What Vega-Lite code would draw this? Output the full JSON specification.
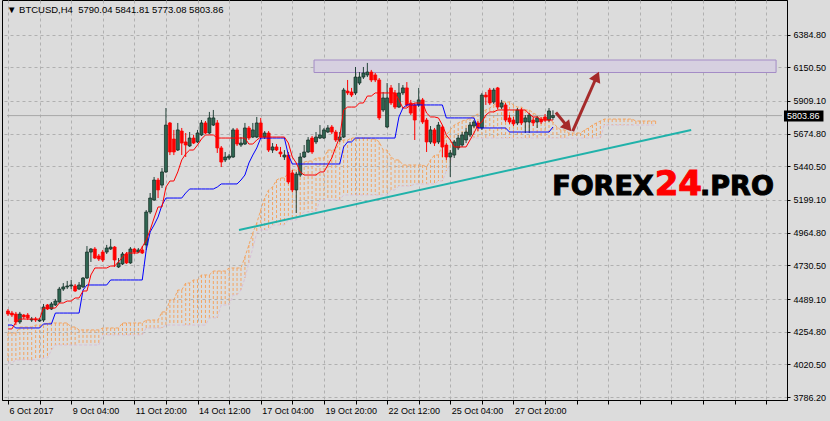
{
"$schema": "https://vega.github.io/schema/vega-lite/v6.json",
"width": 785, "height": 400,
"autosize": "none",
"padding": {"left": 2, "top": 0, "right": 43, "bottom": 21},
"background": "#DCDCDC",
"title": {"text": "▼ BTCUSD,H4\u00a0\u00a05790.04 5841.81 5773.08 5803.86", "anchor": "start", "frame": "group", "offset": -14, "dx": 5, "font": "Liberation Sans", "fontSize": 9.5, "fontWeight": "normal", "color": "black"},
"config": {
 "view": {"stroke": "black", "strokeWidth": 1}
},
"resolve": {"axis": {"x": "independent", "y": "independent"}},
"datasets": {
"candles": [
{"i":0,"o":4404,"h":4418,"l":4368,"c":4382,"t":4275,"k":4303},
{"i":1,"o":4389,"h":4404,"l":4361,"c":4375,"t":4275,"k":4303},
{"i":2,"o":4382,"h":4397,"l":4303,"c":4325,"t":4325,"k":4282},
{"i":3,"o":4325,"h":4397,"l":4311,"c":4382,"t":4346,"k":4282},
{"i":4,"o":4375,"h":4382,"l":4346,"c":4361,"t":4346,"k":4282},
{"i":5,"o":4375,"h":4389,"l":4339,"c":4354,"t":4346,"k":4282},
{"i":6,"o":4339,"h":4361,"l":4325,"c":4346,"t":4346,"k":4282},
{"i":7,"o":4346,"h":4361,"l":4325,"c":4339,"t":4346,"k":4282},
{"i":8,"o":4332,"h":4354,"l":4325,"c":4339,"t":4346,"k":4282},
{"i":9,"o":4339,"h":4454,"l":4325,"c":4432,"t":4425,"k":4311},
{"i":10,"o":4447,"h":4454,"l":4411,"c":4418,"t":4425,"k":4311},
{"i":11,"o":4418,"h":4468,"l":4411,"c":4454,"t":4425,"k":4311},
{"i":12,"o":4447,"h":4490,"l":4440,"c":4475,"t":4425,"k":4389},
{"i":13,"o":4468,"h":4576,"l":4461,"c":4561,"t":4461,"k":4389},
{"i":14,"o":4561,"h":4604,"l":4547,"c":4576,"t":4461,"k":4389},
{"i":15,"o":4576,"h":4619,"l":4561,"c":4583,"t":4475,"k":4389},
{"i":16,"o":4583,"h":4626,"l":4561,"c":4590,"t":4475,"k":4389},
{"i":17,"o":4583,"h":4597,"l":4540,"c":4547,"t":4497,"k":4389},
{"i":18,"o":4561,"h":4611,"l":4554,"c":4590,"t":4497,"k":4389},
{"i":19,"o":4576,"h":4647,"l":4569,"c":4640,"t":4547,"k":4554},
{"i":20,"o":4640,"h":4869,"l":4633,"c":4826,"t":4547,"k":4590},
{"i":21,"o":4826,"h":4855,"l":4755,"c":4848,"t":4662,"k":4590},
{"i":22,"o":4848,"h":4862,"l":4776,"c":4783,"t":4712,"k":4590},
{"i":23,"o":4798,"h":4812,"l":4762,"c":4776,"t":4712,"k":4590},
{"i":24,"o":4826,"h":4841,"l":4755,"c":4769,"t":4712,"k":4590},
{"i":25,"o":4826,"h":4877,"l":4812,"c":4855,"t":4712,"k":4590},
{"i":26,"o":4848,"h":4920,"l":4841,"c":4862,"t":4726,"k":4626},
{"i":27,"o":4862,"h":4869,"l":4719,"c":4769,"t":4726,"k":4626},
{"i":28,"o":4719,"h":4783,"l":4712,"c":4748,"t":4755,"k":4626},
{"i":29,"o":4741,"h":4826,"l":4733,"c":4812,"t":4791,"k":4626},
{"i":30,"o":4812,"h":4826,"l":4741,"c":4748,"t":4819,"k":4626},
{"i":31,"o":4748,"h":4862,"l":4741,"c":4848,"t":4819,"k":4626},
{"i":32,"o":4848,"h":4855,"l":4812,"c":4826,"t":4819,"k":4626},
{"i":33,"o":4826,"h":4855,"l":4819,"c":4841,"t":4819,"k":4626},
{"i":34,"o":4841,"h":4869,"l":4812,"c":4819,"t":4862,"k":4626},
{"i":35,"o":4877,"h":5127,"l":4841,"c":5113,"t":4912,"k":4841},
{"i":36,"o":5113,"h":5249,"l":5099,"c":5213,"t":4984,"k":4970},
{"i":37,"o":5199,"h":5364,"l":5192,"c":5342,"t":5070,"k":5020},
{"i":38,"o":5342,"h":5357,"l":5213,"c":5271,"t":5149,"k":5077},
{"i":39,"o":5306,"h":5428,"l":5285,"c":5400,"t":5149,"k":5163},
{"i":40,"o":5400,"h":5858,"l":5393,"c":5736,"t":5292,"k":5213},
{"i":41,"o":5751,"h":5758,"l":5521,"c":5543,"t":5335,"k":5213},
{"i":42,"o":5636,"h":5701,"l":5521,"c":5543,"t":5335,"k":5213},
{"i":43,"o":5557,"h":5751,"l":5550,"c":5701,"t":5400,"k":5213},
{"i":44,"o":5693,"h":5715,"l":5521,"c":5607,"t":5486,"k":5213},
{"i":45,"o":5615,"h":5679,"l":5507,"c":5593,"t":5529,"k":5249},
{"i":46,"o":5586,"h":5686,"l":5579,"c":5643,"t":5557,"k":5278},
{"i":47,"o":5643,"h":5665,"l":5600,"c":5607,"t":5557,"k":5278},
{"i":48,"o":5615,"h":5701,"l":5607,"c":5679,"t":5593,"k":5278},
{"i":49,"o":5665,"h":5772,"l":5658,"c":5751,"t":5636,"k":5278},
{"i":50,"o":5751,"h":5765,"l":5672,"c":5679,"t":5665,"k":5278},
{"i":51,"o":5679,"h":5830,"l":5672,"c":5787,"t":5665,"k":5278},
{"i":52,"o":5736,"h":5844,"l":5729,"c":5787,"t":5665,"k":5278},
{"i":53,"o":5751,"h":5772,"l":5536,"c":5572,"t":5643,"k":5292},
{"i":54,"o":5572,"h":5586,"l":5435,"c":5471,"t":5643,"k":5314},
{"i":55,"o":5486,"h":5543,"l":5471,"c":5507,"t":5643,"k":5314},
{"i":56,"o":5500,"h":5529,"l":5486,"c":5514,"t":5643,"k":5314},
{"i":57,"o":5507,"h":5715,"l":5500,"c":5701,"t":5643,"k":5314},
{"i":58,"o":5701,"h":5715,"l":5586,"c":5600,"t":5643,"k":5314},
{"i":59,"o":5593,"h":5650,"l":5579,"c":5607,"t":5643,"k":5342},
{"i":60,"o":5600,"h":5751,"l":5593,"c":5715,"t":5643,"k":5378},
{"i":61,"o":5715,"h":5729,"l":5629,"c":5643,"t":5600,"k":5464},
{"i":62,"o":5650,"h":5751,"l":5643,"c":5701,"t":5600,"k":5521},
{"i":63,"o":5650,"h":5794,"l":5643,"c":5751,"t":5629,"k":5572},
{"i":64,"o":5751,"h":5787,"l":5636,"c":5650,"t":5650,"k":5643},
{"i":65,"o":5650,"h":5693,"l":5636,"c":5679,"t":5650,"k":5643},
{"i":66,"o":5679,"h":5693,"l":5543,"c":5557,"t":5650,"k":5643},
{"i":67,"o":5557,"h":5607,"l":5536,"c":5579,"t":5650,"k":5643},
{"i":68,"o":5579,"h":5600,"l":5550,"c":5557,"t":5650,"k":5643},
{"i":69,"o":5543,"h":5579,"l":5507,"c":5529,"t":5650,"k":5643},
{"i":70,"o":5507,"h":5557,"l":5486,"c":5521,"t":5650,"k":5643},
{"i":71,"o":5521,"h":5543,"l":5314,"c":5328,"t":5607,"k":5521},
{"i":72,"o":5393,"h":5414,"l":5256,"c":5271,"t":5507,"k":5457},
{"i":73,"o":5271,"h":5400,"l":5106,"c":5385,"t":5464,"k":5457},
{"i":74,"o":5378,"h":5536,"l":5364,"c":5507,"t":5400,"k":5457},
{"i":75,"o":5507,"h":5593,"l":5500,"c":5543,"t":5378,"k":5457},
{"i":76,"o":5543,"h":5650,"l":5536,"c":5629,"t":5378,"k":5457},
{"i":77,"o":5643,"h":5658,"l":5529,"c":5543,"t":5378,"k":5457},
{"i":78,"o":5615,"h":5686,"l":5600,"c":5650,"t":5378,"k":5457},
{"i":79,"o":5643,"h":5736,"l":5636,"c":5665,"t":5400,"k":5457},
{"i":80,"o":5643,"h":5715,"l":5636,"c":5701,"t":5400,"k":5457},
{"i":81,"o":5686,"h":5736,"l":5679,"c":5715,"t":5450,"k":5457},
{"i":82,"o":5722,"h":5736,"l":5672,"c":5686,"t":5500,"k":5457},
{"i":83,"o":5686,"h":5701,"l":5615,"c":5629,"t":5579,"k":5457},
{"i":84,"o":5629,"h":5686,"l":5615,"c":5650,"t":5650,"k":5457},
{"i":85,"o":5650,"h":6002,"l":5643,"c":5987,"t":5844,"k":5579},
{"i":86,"o":5980,"h":6059,"l":5951,"c":5966,"t":5865,"k":5615},
{"i":87,"o":5973,"h":6002,"l":5937,"c":5951,"t":5865,"k":5615},
{"i":88,"o":5966,"h":6152,"l":5951,"c":6080,"t":5865,"k":5643},
{"i":89,"o":6037,"h":6116,"l":6023,"c":6080,"t":5894,"k":5643},
{"i":90,"o":6080,"h":6152,"l":6066,"c":6109,"t":5894,"k":5643},
{"i":91,"o":6095,"h":6181,"l":6080,"c":6116,"t":5944,"k":5643},
{"i":92,"o":6116,"h":6131,"l":6044,"c":6059,"t":5944,"k":5643},
{"i":93,"o":6095,"h":6109,"l":6044,"c":6059,"t":5966,"k":5643},
{"i":94,"o":6059,"h":6073,"l":5772,"c":5787,"t":5966,"k":5643},
{"i":95,"o":5844,"h":5973,"l":5830,"c":5930,"t":5966,"k":5643},
{"i":96,"o":5722,"h":6037,"l":5715,"c":5930,"t":5966,"k":5643},
{"i":97,"o":6002,"h":6023,"l":5880,"c":5894,"t":5966,"k":5643},
{"i":98,"o":5966,"h":5987,"l":5851,"c":5865,"t":5966,"k":5643},
{"i":99,"o":5865,"h":6037,"l":5858,"c":5966,"t":5916,"k":5794},
{"i":100,"o":5966,"h":6023,"l":5951,"c":6002,"t":5858,"k":5858},
{"i":101,"o":6002,"h":6044,"l":5865,"c":5880,"t":5858,"k":5880},
{"i":102,"o":5894,"h":5916,"l":5808,"c":5822,"t":5880,"k":5880},
{"i":103,"o":5880,"h":5894,"l":5629,"c":5772,"t":5894,"k":5880},
{"i":104,"o":5880,"h":6002,"l":5865,"c":5916,"t":5894,"k":5880},
{"i":105,"o":5916,"h":5930,"l":5744,"c":5758,"t":5894,"k":5880},
{"i":106,"o":5772,"h":5787,"l":5543,"c":5615,"t":5822,"k":5880},
{"i":107,"o":5615,"h":5729,"l":5600,"c":5701,"t":5794,"k":5880},
{"i":108,"o":5701,"h":5715,"l":5586,"c":5607,"t":5794,"k":5880},
{"i":109,"o":5615,"h":5758,"l":5600,"c":5736,"t":5787,"k":5880},
{"i":110,"o":5722,"h":5736,"l":5507,"c":5579,"t":5736,"k":5880},
{"i":111,"o":5593,"h":5607,"l":5486,"c":5507,"t":5665,"k":5787},
{"i":112,"o":5507,"h":5557,"l":5364,"c":5536,"t":5629,"k":5787},
{"i":113,"o":5521,"h":5629,"l":5500,"c":5615,"t":5579,"k":5787},
{"i":114,"o":5572,"h":5665,"l":5557,"c":5643,"t":5579,"k":5787},
{"i":115,"o":5593,"h":5686,"l":5579,"c":5665,"t":5579,"k":5787},
{"i":116,"o":5629,"h":5715,"l":5607,"c":5686,"t":5579,"k":5787},
{"i":117,"o":5665,"h":5758,"l":5650,"c":5736,"t":5629,"k":5787},
{"i":118,"o":5729,"h":5772,"l":5715,"c":5758,"t":5679,"k":5787},
{"i":119,"o":5751,"h":5765,"l":5693,"c":5715,"t":5736,"k":5715},
{"i":120,"o":5715,"h":5966,"l":5701,"c":5951,"t":5758,"k":5715},
{"i":121,"o":5951,"h":5973,"l":5880,"c":5937,"t":5808,"k":5715},
{"i":122,"o":5987,"h":6002,"l":5880,"c":5894,"t":5830,"k":5715},
{"i":123,"o":5901,"h":6002,"l":5887,"c":5987,"t":5830,"k":5715},
{"i":124,"o":6002,"h":6009,"l":5851,"c":5865,"t":5844,"k":5715},
{"i":125,"o":5865,"h":5916,"l":5851,"c":5894,"t":5844,"k":5715},
{"i":126,"o":5880,"h":5894,"l":5758,"c":5772,"t":5844,"k":5715},
{"i":127,"o":5787,"h":5808,"l":5744,"c":5758,"t":5844,"k":5686},
{"i":128,"o":5772,"h":5794,"l":5729,"c":5744,"t":5844,"k":5686},
{"i":129,"o":5751,"h":5858,"l":5736,"c":5844,"t":5844,"k":5686},
{"i":130,"o":5844,"h":5858,"l":5736,"c":5751,"t":5844,"k":5686},
{"i":131,"o":5758,"h":5808,"l":5679,"c":5787,"t":5844,"k":5686},
{"i":132,"o":5758,"h":5822,"l":5679,"c":5808,"t":5815,"k":5686},
{"i":133,"o":5772,"h":5794,"l":5729,"c":5751,"t":5794,"k":5686},
{"i":134,"o":5758,"h":5801,"l":5715,"c":5787,"t":5794,"k":5686},
{"i":135,"o":5779,"h":5794,"l":5744,"c":5758,"t":5772,"k":5686},
{"i":136,"o":5794,"h":5815,"l":5758,"c":5772,"t":5772,"k":5686},
{"i":137,"o":5772,"h":5858,"l":5758,"c":5837,"t":5772,"k":5686},
{"i":138,"o":5790.04,"h":5841.81,"l":5773.08,"c":5803.86,"t":5772,"k":5722}
],
"cloud": [
{"i":0,"a":4246,"b":4031},{"i":1,"a":4246,"b":4031},{"i":2,"a":4246,"b":4053},{"i":3,"a":4289,"b":4053},{"i":4,"a":4289,"b":4053},
{"i":5,"a":4289,"b":4053},{"i":6,"a":4289,"b":4053},{"i":7,"a":4303,"b":4053},{"i":8,"a":4303,"b":4053},{"i":9,"a":4303,"b":4067},
{"i":10,"a":4318,"b":4067},{"i":11,"a":4318,"b":4124},{"i":12,"a":4318,"b":4160},{"i":13,"a":4318,"b":4160},{"i":14,"a":4318,"b":4160},
{"i":15,"a":4318,"b":4160},{"i":16,"a":4289,"b":4160},{"i":17,"a":4289,"b":4160},{"i":18,"a":4268,"b":4160},{"i":19,"a":4268,"b":4160},
{"i":20,"a":4268,"b":4160},{"i":21,"a":4268,"b":4160},{"i":22,"a":4268,"b":4160},{"i":23,"a":4268,"b":4160},{"i":24,"a":4282,"b":4232},
{"i":25,"a":4282,"b":4232},{"i":26,"a":4282,"b":4232},{"i":27,"a":4282,"b":4232},{"i":28,"a":4282,"b":4232},{"i":29,"a":4318,"b":4232},
{"i":30,"a":4318,"b":4232},{"i":31,"a":4318,"b":4232},{"i":32,"a":4318,"b":4232},{"i":33,"a":4318,"b":4232},{"i":34,"a":4318,"b":4232},
{"i":35,"a":4339,"b":4282},{"i":36,"a":4339,"b":4282},{"i":37,"a":4339,"b":4282},{"i":38,"a":4339,"b":4282},{"i":39,"a":4397,"b":4282},
{"i":40,"a":4397,"b":4303},{"i":41,"a":4483,"b":4303},{"i":42,"a":4483,"b":4303},{"i":43,"a":4554,"b":4303},{"i":44,"a":4554,"b":4303},
{"i":45,"a":4604,"b":4303},{"i":46,"a":4604,"b":4303},{"i":47,"a":4626,"b":4303},{"i":48,"a":4626,"b":4303},{"i":49,"a":4662,"b":4303},
{"i":50,"a":4662,"b":4303},{"i":51,"a":4662,"b":4354},{"i":52,"a":4690,"b":4354},{"i":53,"a":4690,"b":4354},{"i":54,"a":4690,"b":4447},
{"i":55,"a":4690,"b":4447},{"i":56,"a":4712,"b":4447},{"i":57,"a":4712,"b":4518},{"i":58,"a":4712,"b":4518},{"i":59,"a":4712,"b":4554},
{"i":60,"a":4791,"b":4640},{"i":61,"a":4877,"b":4748},{"i":62,"a":4963,"b":4855},{"i":63,"a":5034,"b":4963},{"i":64,"a":5127,"b":4984},
{"i":65,"a":5213,"b":4984},{"i":66,"a":5271,"b":4984},{"i":67,"a":5292,"b":5020},{"i":68,"a":5342,"b":5020},{"i":69,"a":5357,"b":5020},
{"i":70,"a":5357,"b":5020},{"i":71,"a":5393,"b":5056},{"i":72,"a":5414,"b":5056},{"i":73,"a":5414,"b":5056},{"i":74,"a":5435,"b":5092},
{"i":75,"a":5471,"b":5113},{"i":76,"a":5478,"b":5113},{"i":77,"a":5478,"b":5113},{"i":78,"a":5500,"b":5113},{"i":79,"a":5500,"b":5199},
{"i":80,"a":5500,"b":5199},{"i":81,"a":5557,"b":5199},{"i":82,"a":5557,"b":5199},{"i":83,"a":5557,"b":5199},{"i":84,"a":5615,"b":5199},
{"i":85,"a":5629,"b":5235},{"i":86,"a":5629,"b":5235},{"i":87,"a":5643,"b":5235},{"i":88,"a":5643,"b":5235},{"i":89,"a":5643,"b":5235},
{"i":90,"a":5643,"b":5235},{"i":91,"a":5643,"b":5235},{"i":92,"a":5636,"b":5235},{"i":93,"a":5636,"b":5235},{"i":94,"a":5615,"b":5235},
{"i":95,"a":5557,"b":5235},{"i":96,"a":5557,"b":5235},{"i":97,"a":5507,"b":5271},{"i":98,"a":5486,"b":5271},{"i":99,"a":5486,"b":5299},
{"i":100,"a":5450,"b":5299},{"i":101,"a":5450,"b":5299},{"i":102,"a":5450,"b":5299},{"i":103,"a":5450,"b":5314},{"i":104,"a":5450,"b":5314},
{"i":105,"a":5450,"b":5314},{"i":106,"a":5435,"b":5314},{"i":107,"a":5486,"b":5314},{"i":108,"a":5521,"b":5314},{"i":109,"a":5521,"b":5335},
{"i":110,"a":5593,"b":5335},{"i":111,"a":5665,"b":5407},{"i":112,"a":5701,"b":5450},{"i":113,"a":5736,"b":5579},{"i":114,"a":5751,"b":5629},
{"i":115,"a":5765,"b":5643},{"i":116,"a":5772,"b":5643},{"i":117,"a":5787,"b":5643},{"i":118,"a":5801,"b":5643},{"i":119,"a":5815,"b":5643},
{"i":120,"a":5830,"b":5643},{"i":121,"a":5844,"b":5643},{"i":122,"a":5858,"b":5643},{"i":123,"a":5880,"b":5643},{"i":124,"a":5894,"b":5643},
{"i":125,"a":5901,"b":5643},{"i":126,"a":5901,"b":5643},{"i":127,"a":5901,"b":5643},{"i":128,"a":5880,"b":5643},{"i":129,"a":5865,"b":5643},
{"i":130,"a":5865,"b":5643},{"i":131,"a":5844,"b":5643},{"i":132,"a":5844,"b":5643},{"i":133,"a":5822,"b":5643},{"i":134,"a":5808,"b":5643},
{"i":135,"a":5787,"b":5643},{"i":136,"a":5787,"b":5643},{"i":137,"a":5772,"b":5643},{"i":138,"a":5758,"b":5643},{"i":139,"a":5722,"b":5643},
{"i":140,"a":5701,"b":5643},{"i":141,"a":5701,"b":5643},{"i":142,"a":5679,"b":5643},{"i":143,"a":5679,"b":5643},{"i":144,"a":5679,"b":5643},
{"i":145,"a":5679,"b":5643},{"i":146,"a":5701,"b":5643},{"i":147,"a":5715,"b":5643},{"i":148,"a":5736,"b":5643},{"i":149,"a":5751,"b":5643},
{"i":150,"a":5765,"b":5643},{"i":151,"a":5779,"b":5736},{"i":152,"a":5779,"b":5736},{"i":153,"a":5779,"b":5736},{"i":154,"a":5779,"b":5736},
{"i":155,"a":5779,"b":5736},{"i":156,"a":5779,"b":5736},{"i":157,"a":5779,"b":5736},{"i":158,"a":5779,"b":5736},{"i":159,"a":5765,"b":5736},
{"i":160,"a":5765,"b":5736},{"i":161,"a":5765,"b":5736},{"i":162,"a":5765,"b":5736},{"i":163,"a":5765,"b":5736},{"i":164,"a":5765,"b":5736}
],
"ticks": [{"i":0,"v":3786.2},{"i":8,"v":4020.5},{"i":16,"v":4254.8},{"i":24,"v":4489.1},{"i":32,"v":4730.5},{"i":40,"v":4964.8},{"i":48,"v":5199.1},{"i":56,"v":5440.5},{"i":64,"v":5674.8},{"i":72,"v":5909.1},{"i":80,"v":6150.5},{"i":88,"v":6384.8},{"i":96,"v":6384.8},{"i":104,"v":6384.8},{"i":112,"v":6384.8},{"i":120,"v":6384.8},{"i":128,"v":6384.8},{"i":136,"v":6384.8},{"i":144,"v":6384.8},{"i":152,"v":6384.8},{"i":160,"v":6384.8},{"i":168,"v":6384.8},{"i":176,"v":6384.8},{"i":184,"v":6384.8},{"i":192,"v":6384.8}],
"trend": [{"i": 58.5, "v": 4984, "i2": 173, "v2": 5700.6}],
"zone": [{"i": 77.5, "i2": 194.5, "v": 6202, "v2": 6112.5}],
"arrows": [{"i": 138.75, "v": 5826, "i2": 141.8, "v2": 5721}, {"i": 143, "v": 5693, "i2": 149.1, "v2": 6084}],
"heads": [{"i": 141.8, "v": 5721, "ang": 139}, {"i": 149.1, "v": 6084, "ang": 24}],
"wm": [{"i": 163.5, "v": 5235, "txt": "FOREX"}],
"wm2": [{"i": 163.75, "v": 5235, "txt": "24"}],
"wm3": [{"i": 175.25, "v": 5235, "txt": ".PRO"}],
"plabel": [{"i": 196.5, "i2": 206.5, "v": 5840, "v2": 5762, "ti": 197.25, "p": 5803.86, "txt": "5803.86", "i0": -0.25, "i1": 196}]
},
"layer": [
 {"data": {"name": "ticks"}, "mark": {"type": "point", "opacity": 0},
  "encoding": {
   "x": {"field": "i", "type": "quantitative", "scale": {"domain": [-0.25, 196], "nice": false, "zero": false},
    "axis": {"title": null, "values": [0,8,16,24,32,40,48,56,64,72,80,88,96,104,112,120,128,136,144,152,160,168,176,184,192],
     "labelExpr": "datum.value==0?'6 Oct 2017':datum.value==16?'9 Oct 04:00':datum.value==32?'11 Oct 20:00':datum.value==48?'14 Oct 12:00':datum.value==64?'17 Oct 04:00':datum.value==80?'19 Oct 20:00':datum.value==96?'22 Oct 12:00':datum.value==112?'25 Oct 04:00':datum.value==128?'27 Oct 20:00':''",
     "grid": true, "gridColor": "#B0B0B0", "gridDash": [3, 3], "domainColor": "black", "tickColor": "black", "tickSize": 4, "labelColor": "black", "labelFont": "Liberation Sans", "labelFontSize": 9, "labelAlign": "left", "labelBaseline": "top", "labelOffset": 1, "labelPadding": 2, "labelFlush": false, "labelOverlap": false, "labelBound": false}},
   "y": {"field": "v", "type": "quantitative", "scale": {"domain": [3766, 6632], "nice": false, "zero": false},
    "axis": {"title": null, "orient": "right", "values": [3786.2, 4020.5, 4254.8, 4489.1, 4730.5, 4964.8, 5199.1, 5440.5, 5674.8, 5909.1, 6150.5, 6384.8], "format": ".2f", "grid": true, "gridColor": "#B0B0B0", "gridDash": [3, 3], "domainColor": "black", "tickColor": "black", "tickSize": 3, "labelColor": "black", "labelFont": "Liberation Sans", "labelFontSize": 9, "labelPadding": 3, "labelOverlap": false, "labelBound": false, "labelFlush": false}}}},
 {"data": {"name": "cloud"}, "mark": {"type": "rule", "strokeDash": [3, 2], "strokeWidth": 1},
  "encoding": {
   "x": {"field": "i", "type": "quantitative", "axis": null},
   "y": {"field": "a", "type": "quantitative", "axis": null},
   "y2": {"field": "b"},
   "color": {"condition": {"test": "datum.a >= datum.b", "value": "#F4A460"}, "value": "#D8BFD8"}}},
 {"data": {"name": "cloud"}, "mark": {"type": "line", "strokeDash": [3, 2], "strokeWidth": 1, "color": "#F4A460"},
  "encoding": {"x": {"field": "i", "type": "quantitative", "axis": null}, "y": {"field": "a", "type": "quantitative", "axis": null}}},
 {"data": {"name": "cloud"}, "mark": {"type": "line", "strokeDash": [3, 2], "strokeWidth": 1, "color": "#D8BFD8"},
  "encoding": {"x": {"field": "i", "type": "quantitative", "axis": null}, "y": {"field": "b", "type": "quantitative", "axis": null}}},
 {"data": {"name": "zone"}, "mark": {"type": "rect", "fill": "#D6D0E0", "stroke": "#A48CC6", "strokeWidth": 1},
  "encoding": {"x": {"field": "i", "type": "quantitative", "axis": null}, "x2": {"field": "i2"}, "y": {"field": "v", "type": "quantitative", "axis": null}, "y2": {"field": "v2"}}},
 {"data": {"name": "trend"}, "mark": {"type": "rule", "color": "#20B2AA", "strokeWidth": 2},
  "encoding": {"x": {"field": "i", "type": "quantitative", "axis": null}, "x2": {"field": "i2"}, "y": {"field": "v", "type": "quantitative", "axis": null}, "y2": {"field": "v2"}}},
 {"data": {"name": "plabel"}, "mark": {"type": "rule", "color": "#A8A8A8", "strokeWidth": 1},
  "encoding": {"x": {"field": "i0", "type": "quantitative", "axis": null}, "x2": {"field": "i1"}, "y": {"field": "p", "type": "quantitative", "axis": null}}},
 {"data": {"name": "candles"}, "mark": {"type": "rule", "strokeWidth": 1},
  "encoding": {"x": {"field": "i", "type": "quantitative", "axis": null}, "y": {"field": "l", "type": "quantitative", "axis": null}, "y2": {"field": "h"},
   "color": {"condition": {"test": "datum.c >= datum.o", "value": "#24433A"}, "value": "#FF0000"}}},
 {"data": {"name": "candles"}, "mark": {"type": "bar", "width": 3, "strokeWidth": 0.7},
  "encoding": {"x": {"field": "i", "type": "quantitative", "axis": null}, "y": {"field": "o", "type": "quantitative", "axis": null}, "y2": {"field": "c"},
   "fill": {"condition": {"test": "datum.c >= datum.o", "value": "#2F6652"}, "value": "#FF0000"},
   "stroke": {"condition": {"test": "datum.c >= datum.o", "value": "#102820"}, "value": "#FF0000"}}},
 {"data": {"name": "candles"}, "mark": {"type": "line", "color": "#0000FF", "strokeWidth": 1},
  "encoding": {"x": {"field": "i", "type": "quantitative", "axis": null}, "y": {"field": "k", "type": "quantitative", "axis": null}}},
 {"data": {"name": "candles"}, "mark": {"type": "line", "color": "#FF0000", "strokeWidth": 1},
  "encoding": {"x": {"field": "i", "type": "quantitative", "axis": null}, "y": {"field": "t", "type": "quantitative", "axis": null}}},
 {"data": {"name": "arrows"}, "mark": {"type": "rule", "color": "#A52A2A", "strokeWidth": 3},
  "encoding": {"x": {"field": "i", "type": "quantitative", "axis": null}, "x2": {"field": "i2"}, "y": {"field": "v", "type": "quantitative", "axis": null}, "y2": {"field": "v2"}}},
 {"data": {"name": "heads"}, "mark": {"type": "point", "shape": "triangle-up", "filled": true, "color": "#A52A2A", "opacity": 1, "size": 150},
  "encoding": {"x": {"field": "i", "type": "quantitative", "axis": null}, "y": {"field": "v", "type": "quantitative", "axis": null}, "angle": {"field": "ang", "type": "quantitative", "scale": null}}},
 {"data": {"name": "wm"}, "mark": {"type": "text", "align": "right", "baseline": "alphabetic", "font": "DejaVu Sans", "fontWeight": "bold", "fontSize": 27, "color": "#000000", "stroke": "#000000", "strokeWidth": 1},
  "encoding": {"x": {"field": "i", "type": "quantitative", "axis": null}, "y": {"field": "v", "type": "quantitative", "axis": null}, "text": {"field": "txt"}}},
 {"data": {"name": "wm2"}, "mark": {"type": "text", "align": "left", "baseline": "alphabetic", "font": "DejaVu Sans", "fontWeight": "bold", "fontSize": 34, "color": "#FF0000", "stroke": "#FF0000", "strokeWidth": 1},
  "encoding": {"x": {"field": "i", "type": "quantitative", "axis": null}, "y": {"field": "v", "type": "quantitative", "axis": null}, "text": {"field": "txt"}}},
 {"data": {"name": "wm3"}, "mark": {"type": "text", "align": "left", "baseline": "alphabetic", "font": "DejaVu Sans", "fontWeight": "bold", "fontSize": 27, "color": "#000000", "stroke": "#000000", "strokeWidth": 1},
  "encoding": {"x": {"field": "i", "type": "quantitative", "axis": null}, "y": {"field": "v", "type": "quantitative", "axis": null}, "text": {"field": "txt"}}},
 {"data": {"name": "plabel"}, "mark": {"type": "rect", "fill": "#000000"},
  "encoding": {"x": {"field": "i", "type": "quantitative", "axis": null}, "x2": {"field": "i2"}, "y": {"field": "v", "type": "quantitative", "axis": null}, "y2": {"field": "v2"}}},
 {"data": {"name": "plabel"}, "mark": {"type": "text", "align": "left", "baseline": "middle", "font": "Liberation Sans", "fontSize": 9, "color": "#FFFFFF"},
  "encoding": {"x": {"field": "ti", "type": "quantitative", "axis": null}, "y": {"field": "p", "type": "quantitative", "axis": null}, "text": {"field": "txt"}}}
]
}
